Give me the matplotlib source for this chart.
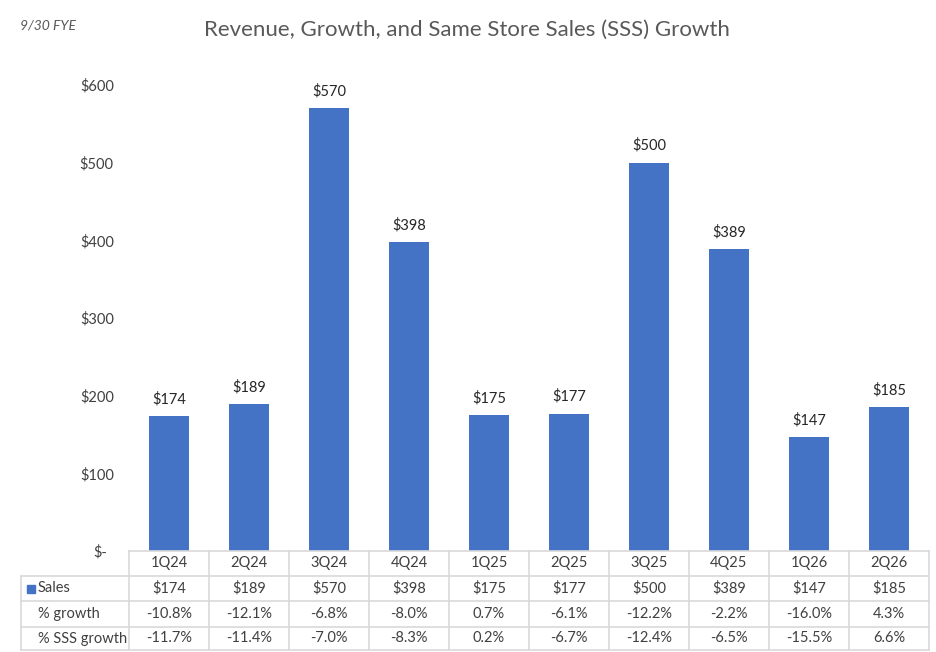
import numpy as np
import matplotlib.pyplot as plt
from matplotlib.lines import Line2D
from matplotlib.patches import Rectangle

quarters = ['1Q24', '2Q24', '3Q24', '4Q24', '1Q25', '2Q25', '3Q25', '4Q25', '1Q26', '2Q26']
sales = [174, 189, 570, 398, 175, 177, 500, 389, 147, 185]
growth = [-10.8, -12.1, -6.8, -8.0, 0.7, -6.1, -12.2, -2.2, -16.0, 4.3]
sss_growth = [-11.7, -11.4, -7.0, -8.3, 0.2, -6.7, -12.4, -6.5, -15.5, 6.6]

plt.rcParams['font.family'] = ['Lato', 'DejaVu Sans']
W, H = 936, 652
BLUE = '#4472C4'
TXT = '#404040'
GRID = '#d9d9d9'

fig = plt.figure(figsize=(W / 100, H / 100), dpi=100)

# plot area in pixel terms
x0, x1 = 129, 929
y_zero, y_top = 551, 85
ax = fig.add_axes([x0 / W, (H - y_zero) / H, (x1 - x0) / W, (y_zero - y_top) / H])

x = np.arange(len(quarters))
ax.bar(x, sales, width=0.49, color=BLUE)
ax.set_xlim(-0.5, len(quarters) - 0.5)
ax.set_ylim(0, 600)
for xi, v in zip(x, sales):
    ax.annotate(f'${v}', (xi, v), xytext=(0, 7), textcoords='offset points',
                ha='center', va='bottom', fontsize=10.5, color='#262626')

ax.set_yticks(range(0, 601, 100))
ax.set_yticklabels(['$-'] + [f'${v}' for v in range(100, 601, 100)])
ax.tick_params(axis='y', length=0, pad=11, labelsize=10.5, labelcolor=TXT)
ax.get_yticklabels()[0].set_x(-0.008)
ax.set_xticks([])
for s in ax.spines.values():
    s.set_visible(False)

# data table under the chart
rows = [
    ('Sales', [f'${v}' for v in sales]),
    ('% growth', [f'{v:.1f}%' for v in growth]),
    ('% SSS growth', [f'{v:.1f}%' for v in sss_growth]),
]
row_edges = [551, 576, 601, 627, 650]
lbl_x0 = 21
col_w = (x1 - x0) / len(quarters)

def fx(px):
    return px / W

def fy(py):
    return (H - py) / H

def hline(py, xa, xb):
    fig.add_artist(Line2D([fx(xa), fx(xb)], [fy(py), fy(py)], color=GRID, lw=1.2))

def vline(px, ya, yb):
    fig.add_artist(Line2D([fx(px), fx(px)], [fy(ya), fy(yb)], color=GRID, lw=1.2))

hline(row_edges[0], x0, x1)
for py in row_edges[1:]:
    hline(py, lbl_x0, x1)
vline(lbl_x0, row_edges[1], row_edges[-1])
for i in range(len(quarters) + 1):
    vline(x0 + i * col_w, row_edges[0], row_edges[-1])

for i, q in enumerate(quarters):
    cx = x0 + (i + 0.5) * col_w
    fig.text(fx(cx), fy((row_edges[0] + row_edges[1]) / 2), q, ha='center', va='center',
             fontsize=10.5, color=TXT)
for r, (name, vals) in enumerate(rows):
    cy = (row_edges[r + 1] + row_edges[r + 2]) / 2
    if r == 0:
        fig.add_artist(Rectangle((fx(27), fy(cy + 4)), 8 / W, 8 / H, color=BLUE,
                                 transform=fig.transFigure))
    fig.text(fx(38), fy(cy), name, ha='left', va='center', fontsize=10.5, color=TXT)
    for i, v in enumerate(vals):
        cx = x0 + (i + 0.5) * col_w
        fig.text(fx(cx), fy(cy), v, ha='center', va='center', fontsize=10.5, color=TXT)

fig.text(fx(467), fy(30), 'Revenue, Growth, and Same Store Sales (SSS) Growth',
         ha='center', va='center', fontsize=16, color='#595959')
fig.text(fx(20), fy(26), '9/30 FYE', ha='left', va='center', fontsize=10,
         style='italic', color='#595959')

fig.savefig('out.png', dpi=100)
